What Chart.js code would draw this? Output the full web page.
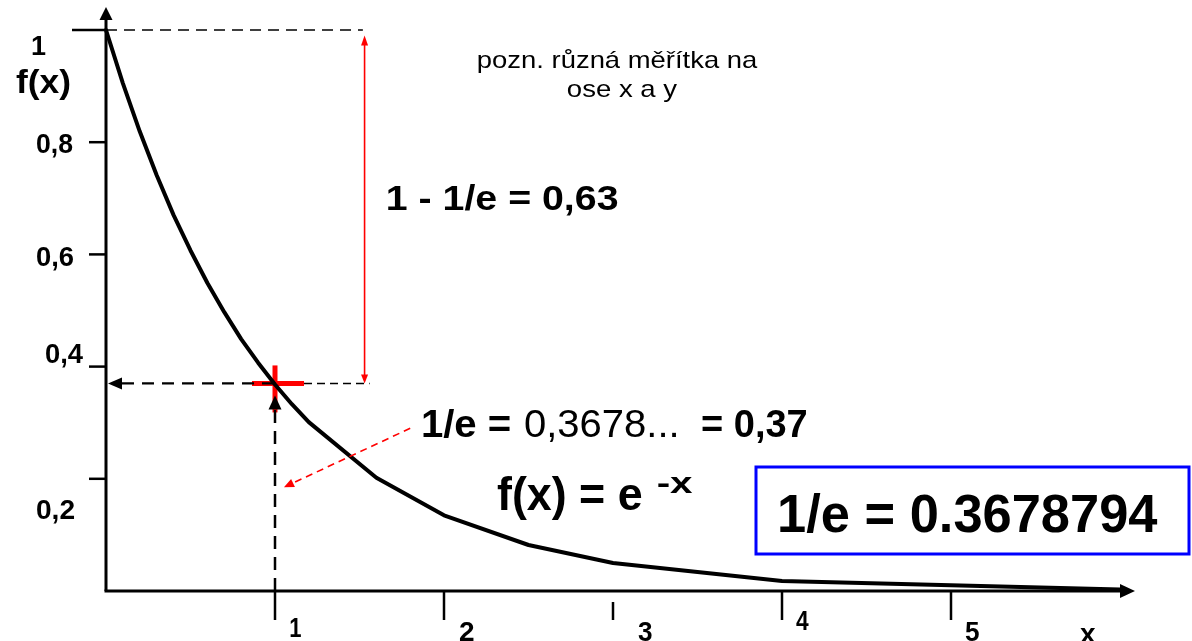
<!DOCTYPE html>
<html><head><meta charset="utf-8">
<script src="https://cdn.jsdelivr.net/npm/chart.js@4"></script>
<style>html,body{margin:0;padding:0;background:#fff}canvas{display:block}</style>
</head><body>
<canvas id="c" width="1192" height="641"></canvas>
<script>
// ---- data ----
const xValues = [0, 0.1, 0.2, 0.3, 0.4, 0.5, 0.6, 0.7, 0.8, 0.9, 1.0, 1.1, 1.2, 1.6, 2.0, 2.5, 3.0, 4.0, 6.0];
const yValues = [1, 0.905, 0.819, 0.741, 0.670, 0.607, 0.549, 0.497, 0.449, 0.407, 0.368, 0.333, 0.301, 0.202, 0.135, 0.082, 0.050, 0.018, 0.0025];
const xTicks = [1, 2, 3, 4, 5];
const xTickLabels = ['1', '2', '3', '4', '5'];
const yTicks = [0.2, 0.4, 0.6, 0.8, 1];
const yTickLabels = ['0,2', '0,4', '0,6', '0,8', '1'];
const markX = 1;            // x where f(x) = 1/e
const markY = 0.37;         // 1/e
const gapX = 1.53;          // position of the 1 - 1/e arrow
const noteLines = ['pozn. různá měřítka na', 'ose x a y'];
const gapText = '1 - 1/e = 0,63';
const eParts = ['1/e =', '0,3678...', '= 0,37'];
const formulaText = 'f(x) = e';
const formulaExp = '-x';
const boxText = '1/e = 0.3678794';
const yAxisTitle = 'f(x)';
const xAxisTitle = 'x';

const FONT = '"Liberation Sans", Arial, sans-serif';

function fitText(ctx, txt, left, baseline, font, targetW) {
  ctx.font = font;
  const m = ctx.measureText(txt);
  const ink = m.actualBoundingBoxRight + m.actualBoundingBoxLeft;
  const s = targetW ? targetW / ink : 1;
  ctx.save();
  ctx.translate(left + m.actualBoundingBoxLeft * s, baseline);
  ctx.scale(s, 1);
  ctx.textAlign = 'left';
  ctx.textBaseline = 'alphabetic';
  ctx.fillText(txt, 0, 0);
  ctx.restore();
}
function head(ctx, tx, ty, ang, len, hw, color) {
  ctx.save();
  ctx.translate(tx, ty);
  ctx.rotate(ang);
  ctx.fillStyle = color;
  ctx.beginPath();
  ctx.moveTo(0, 0);
  ctx.lineTo(-len, -hw);
  ctx.lineTo(-len, hw);
  ctx.closePath();
  ctx.fill();
  ctx.restore();
}
function line(ctx, x1, y1, x2, y2, color, w, dash) {
  ctx.save();
  ctx.strokeStyle = color;
  ctx.lineWidth = w;
  ctx.setLineDash(dash || []);
  ctx.beginPath();
  ctx.moveTo(x1, y1);
  ctx.lineTo(x2, y2);
  ctx.stroke();
  ctx.restore();
}

const decor = {
  id: 'decor',
  beforeDatasetsDraw(chart) {
    const ctx = chart.ctx;
    const xs = chart.scales.x, ys = chart.scales.y;
    const X = v => xs.getPixelForValue(v), Y = v => ys.getPixelForValue(v);
    const x0 = X(0), y0 = Y(0);
    const mx = X(markX), my = Y(markY);
    // red cross
    line(ctx, mx - 23, my, mx + 29, my, '#ff0000', 5);
    line(ctx, mx, my - 18, mx, my + 29, '#ff0000', 5);
    // dashed guides
    line(ctx, x0, Y(1), X(1.52), Y(1), '#000', 1.5, [11, 7]);
    line(ctx, x0 + 16, my, mx + 6, my, '#000', 2.2, [12, 8]);
    line(ctx, mx + 29, my, X(1.56), my, '#000', 1.5, [8, 5]);
    head(ctx, x0 + 2, my, Math.PI, 14, 6, '#000');
    line(ctx, mx, y0, mx, my + 26, '#000', 2.5, [13, 8]);
    head(ctx, mx, my + 12, -Math.PI / 2, 14, 6.5, '#000');
    // red 1 - 1/e arrow
    const gx = X(gapX);
    line(ctx, gx, my - 4, gx, Y(0.985) + 6, '#ff0000', 1.6);
    head(ctx, gx, Y(0.99), -Math.PI / 2, 10, 3.5, '#ff0000');
    head(ctx, gx, my, Math.PI / 2, 9, 3.5, '#ff0000');
    // axes
    line(ctx, x0, y0, x0, 18, '#000', 3);
    head(ctx, x0, 7, -Math.PI / 2, 13, 6.5, '#000');
    line(ctx, x0 - 1.5, y0, X(6) + 2, y0, '#000', 3);
    head(ctx, X(6) + 15, y0, 0, 15, 7, '#000');
    // y ticks
    yTicks.forEach(t => {
      const len = t === 1 ? 34 : 17;
      line(ctx, x0 - len, Y(t), x0, Y(t), '#000', 2.5);
    });
    // x ticks
    xTicks.forEach(t => {
      const top = t === 3 ? y0 + 11 : y0;
      line(ctx, X(t), top, X(t), y0 + 29, '#000', 2.5);
    });
  },
  afterDatasetsDraw(chart) {
    const ctx = chart.ctx;
    const xs = chart.scales.x, ys = chart.scales.y;
    const X = v => xs.getPixelForValue(v), Y = v => ys.getPixelForValue(v);
    ctx.fillStyle = '#000';
    // y tick labels
    const yLab = { '0,2': [37, Y(0.2) + 40, 37], '0,4': [46, Y(0.4) - 4, 37], '0,6': [37, Y(0.6) + 12, 37], '0,8': [37, Y(0.8) + 11, 36], '1': [32, Y(1) + 25, null] };
    yTickLabels.forEach(l => {
      const p = yLab[l];
      fitText(ctx, l, p[0], p[1], 'bold 27px ' + FONT, p[2]);
    });
    fitText(ctx, yAxisTitle, 16, 93, 'bold 33px ' + FONT, 54);
    // x tick labels
    const xOff = [[15, 46, 11], [15, 50, 15], [25, 50, 14], [14, 39, 13], [14, 50, 14]];
    xTickLabels.forEach((l, i) => {
      fitText(ctx, l, X(xTicks[i]) + xOff[i][0], Y(0) + xOff[i][1], 'bold 28px ' + FONT, xOff[i][2]);
    });
    fitText(ctx, xAxisTitle, 1080, 643, 'bold 28px ' + FONT, 16);
    // note
    ctx.fillStyle = '#000';
    fitText(ctx, noteLines[0], 478, 68, '24px ' + FONT, 280);
    fitText(ctx, noteLines[1], 568, 97, '24px ' + FONT, 109);
    // 1 - 1/e
    fitText(ctx, gapText, 388, 210, 'bold 35px ' + FONT, 230);
    // 1/e = 0,3678... = 0,37
    fitText(ctx, eParts[0], 423, 437, 'bold 38px ' + FONT, 87);
    fitText(ctx, eParts[1], 525, 437, '38px ' + FONT, 152);
    fitText(ctx, eParts[2], 702, 437, 'bold 38px ' + FONT, null);
    // red dashed pointer
    const sx = X(1.80), sy = Y(0.29), tx = X(1.053), ty = Y(0.185);
    const ang = Math.atan2(ty - sy, tx - sx);
    line(ctx, sx, sy, tx - 8 * Math.cos(ang), ty - 8 * Math.sin(ang), '#ff0000', 1.6, [7, 5]);
    head(ctx, tx, ty, ang, 10, 4.5, '#ff0000');
    // formula
    fitText(ctx, formulaText, 497, 510, 'bold 46px ' + FONT, 145);
    fitText(ctx, formulaExp, 658, 493, 'bold 30px ' + FONT, 35);
    // box
    ctx.save();
    ctx.strokeStyle = '#0000ff';
    ctx.lineWidth = 3;
    ctx.strokeRect(756, 467, 433, 87);
    ctx.restore();
    fitText(ctx, boxText, 780, 532, 'bold 53px ' + FONT, 378);
  }
};

new Chart(document.getElementById('c'), {
  type: 'line',
  data: {
    datasets: [{
      data: xValues.map((x, i) => ({ x: x, y: yValues[i] })),
      borderColor: '#000',
      borderWidth: 4,
      pointRadius: 0,
      tension: 0,
      fill: false,
      clip: false,
      borderJoinStyle: 'round',
      borderCapStyle: 'round'
    }]
  },
  options: {
    responsive: false,
    animation: false,
    events: [],
    layout: { padding: { left: 106, right: 72, top: 30, bottom: 50 } },
    scales: {
      x: { type: 'linear', min: 0, max: 6, display: false },
      y: { type: 'linear', min: 0, max: 1, display: false }
    },
    plugins: { legend: { display: false }, tooltip: { enabled: false } }
  },
  plugins: [decor]
});
</script>
</body></html>
